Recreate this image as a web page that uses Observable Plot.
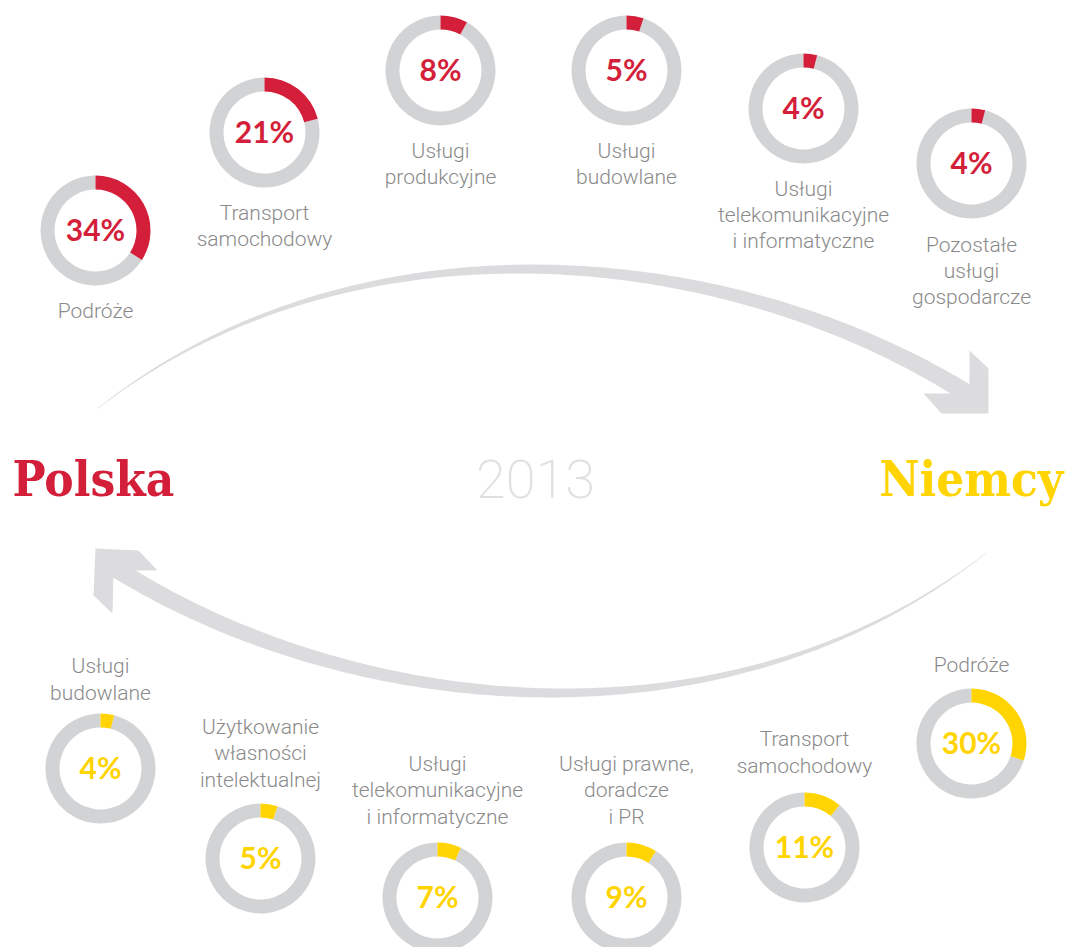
<!DOCTYPE html>
<html>
<head>
<meta charset="utf-8">
<script src="https://cdn.jsdelivr.net/npm/d3@7"></script>
<script src="https://cdn.jsdelivr.net/npm/@observablehq/plot@0.6"></script>
<style>
  html, body { margin: 0; padding: 0; background: #fff; }
  #chart svg { display: block; }
</style>
</head>
<body>
<div id="chart"></div>
<script>
// ---------- DATA ----------
const plCategories = ["Podróże", "Transport\nsamochodowy", "Usługi\nprodukcyjne", "Usługi\nbudowlane", "Usługi\ntelekomunikacyjne\ni informatyczne", "Pozostałe\nusługi\ngospodarcze"];
const plShares = [34, 21, 8, 5, 4, 4];
const deCategories = ["Podróże", "Transport\nsamochodowy", "Usługi prawne,\ndoradcze\ni PR", "Usługi\ntelekomunikacyjne\ni informatyczne", "Użytkowanie\nwłasności\nintelektualnej", "Usługi\nbudowlane"];
const deShares = [30, 11, 9, 7, 5, 4];
const countryNames = ["Polska", "Niemcy"];
const yearLabel = "2013";

// ---------- LAYOUT (positions / styles) ----------
const W = 1069, H = 947;
const plCenters = [[95, 230], [264, 132], [440, 70], [626, 70], [803, 108], [971, 163]];
const deCenters = [[971, 743], [804, 847], [626, 897], [437, 897], [260, 858], [100, 768]];
const plLabelGap = [69, 69, 69, 69, 69, 70];
const deLabelGap = [-72, -75, -74, -74, -72, -69];
const RED = "#d31f3a", YELLOW = "#ffd400", RING = "#d2d3d5", ARROW = "#dcdcde", LABEL = "#8a8a8a";
const R_OUT = 55, THICK = 14;

// donut records
const plDonuts = plCategories.map((c, i) => ({label: c, share: plShares[i], cx: plCenters[i][0], cy: plCenters[i][1], color: RED, ly: plCenters[i][1] + plLabelGap[i]}));
const deDonuts = deCategories.map((c, i) => ({label: c, share: deShares[i], cx: deCenters[i][0], cy: deCenters[i][1], color: YELLOW, ly: deCenters[i][1] + deLabelGap[i]}));
const donuts = plDonuts.concat(deDonuts);

// annular sector symbol (starts at 12 o'clock, clockwise)
function sectorSymbol(f0, f1) {
  return {
    draw(context, size) {
      const ro = Math.sqrt(size / Math.PI), ri = ro - THICK;
      const a0 = -Math.PI / 2 + 2 * Math.PI * f0, a1 = -Math.PI / 2 + 2 * Math.PI * f1;
      context.moveTo(ro * Math.cos(a0), ro * Math.sin(a0));
      context.arc(0, 0, ro, a0, a1, false);
      context.lineTo(ri * Math.cos(a1), ri * Math.sin(a1));
      context.arc(0, 0, ri, a1, a0, true);
      context.closePath();
    }
  };
}

// ---------- decorative arrows (tapered bezier bands + chevron heads) ----------
function taperedBezier(P, w0, w1) {
  const n = 160, left = [], right = [];
  for (let i = 0; i <= n; i++) {
    const t = i / n, u = 1 - t;
    const b = [u * u * u, 3 * u * u * t, 3 * u * t * t, t * t * t];
    const x = b[0] * P[0][0] + b[1] * P[1][0] + b[2] * P[2][0] + b[3] * P[3][0];
    const y = b[0] * P[0][1] + b[1] * P[1][1] + b[2] * P[2][1] + b[3] * P[3][1];
    const dx = 3 * u * u * (P[1][0] - P[0][0]) + 6 * u * t * (P[2][0] - P[1][0]) + 3 * t * t * (P[3][0] - P[2][0]);
    const dy = 3 * u * u * (P[1][1] - P[0][1]) + 6 * u * t * (P[2][1] - P[1][1]) + 3 * t * t * (P[3][1] - P[2][1]);
    const L = Math.hypot(dx, dy) || 1, nx = -dy / L, ny = dx / L, w = (w0 + (w1 - w0) * t) / 2;
    left.push({x: x + nx * w, y: y + ny * w});
    right.push({x: x - nx * w, y: y - ny * w});
  }
  return left.concat(right.reverse());
}
const topCurve = [[97, 408], [357, 205], [733, 244], [970, 395]];
const botCurve = [[985, 553], [725, 756], [349, 717], [112, 566]];
const topArc = taperedBezier(topCurve, 0.5, 18);
const bottomArc = taperedBezier(botCurve, 0.5, 18);
const topHead = [[969, 350], [988, 368], [988, 413], [941, 413], [923, 393], [969, 393]].map(([x, y]) => ({x, y}));
const bottomHead = [[95, 548], [138, 550], [157, 570], [113, 570], [112, 613], [93, 595]].map(([x, y]) => ({x, y}));

// ---------- marks ----------
const marks = [
  Plot.line(topArc, {x: "x", y: "y", fill: ARROW, stroke: "none", curve: "linear"}),
  Plot.line(topHead, {x: "x", y: "y", fill: ARROW, stroke: "none", curve: "linear"}),
  Plot.line(bottomArc, {x: "x", y: "y", fill: ARROW, stroke: "none", curve: "linear"}),
  Plot.line(bottomHead, {x: "x", y: "y", fill: ARROW, stroke: "none", curve: "linear"})
];

for (const d of donuts) {
  const f = d.share / 100;
  marks.push(Plot.dot([d], {x: "cx", y: "cy", r: R_OUT, symbol: sectorSymbol(f, 1), fill: RING, stroke: "none"}));
  marks.push(Plot.dot([d], {x: "cx", y: "cy", r: R_OUT, symbol: sectorSymbol(0, f), fill: d.color, stroke: "none"}));
}

// percent labels
marks.push(Plot.text(donuts, {
  x: "cx", y: "cy", text: d => d.share + "%", fill: d => d.color,
  fontSize: 30, fontWeight: 700, fontFamily: "Lato, 'Open Sans', sans-serif",
  textAnchor: "middle", lineAnchor: "middle", dy: 1
}));

// category labels: PL below donut, DE above donut
marks.push(Plot.text(plDonuts, {
  x: "cx", y: "ly", text: "label", fill: LABEL,
  fontSize: 21, fontWeight: 300, fontFamily: "Roboto, 'Liberation Sans', sans-serif",
  textAnchor: "middle", lineAnchor: "top", lineHeight: 1.24
}));
marks.push(Plot.text(deDonuts, {
  x: "cx", y: "ly", text: "label", fill: LABEL,
  fontSize: 21, fontWeight: 300, fontFamily: "Roboto, 'Liberation Sans', sans-serif",
  textAnchor: "middle", lineAnchor: "bottom", lineHeight: 1.24
}));

// country names & year
marks.push(Plot.text([countryNames[0]], {
  x: () => 12, y: () => 495, text: d => d, fill: RED, fontSize: 49, fontWeight: 700,
  fontFamily: "'DejaVu Serif Condensed', 'DejaVu Serif', serif", textAnchor: "start", lineAnchor: "bottom"
}));
marks.push(Plot.text([countryNames[1]], {
  x: () => 1063, y: () => 495, text: d => d, fill: YELLOW, fontSize: 49, fontWeight: 700,
  fontFamily: "'DejaVu Serif Condensed', 'DejaVu Serif', serif", textAnchor: "end", lineAnchor: "bottom"
}));
marks.push(Plot.text([yearLabel], {
  x: () => 535, y: () => 497, text: d => d, fill: "#e0e0e1", fontSize: 54, fontWeight: 200,
  fontFamily: "Roboto, 'Liberation Sans', sans-serif", textAnchor: "middle", lineAnchor: "bottom"
}));

const chart = Plot.plot({
  width: W, height: H,
  margin: 0,
  x: {type: "linear", domain: [0, W], range: [0, W], axis: null},
  y: {type: "linear", domain: [0, H], range: [0, H], axis: null},
  style: {background: "#fff", overflow: "visible"},
  marks
});
document.getElementById("chart").appendChild(chart);
</script>
</body>
</html>
